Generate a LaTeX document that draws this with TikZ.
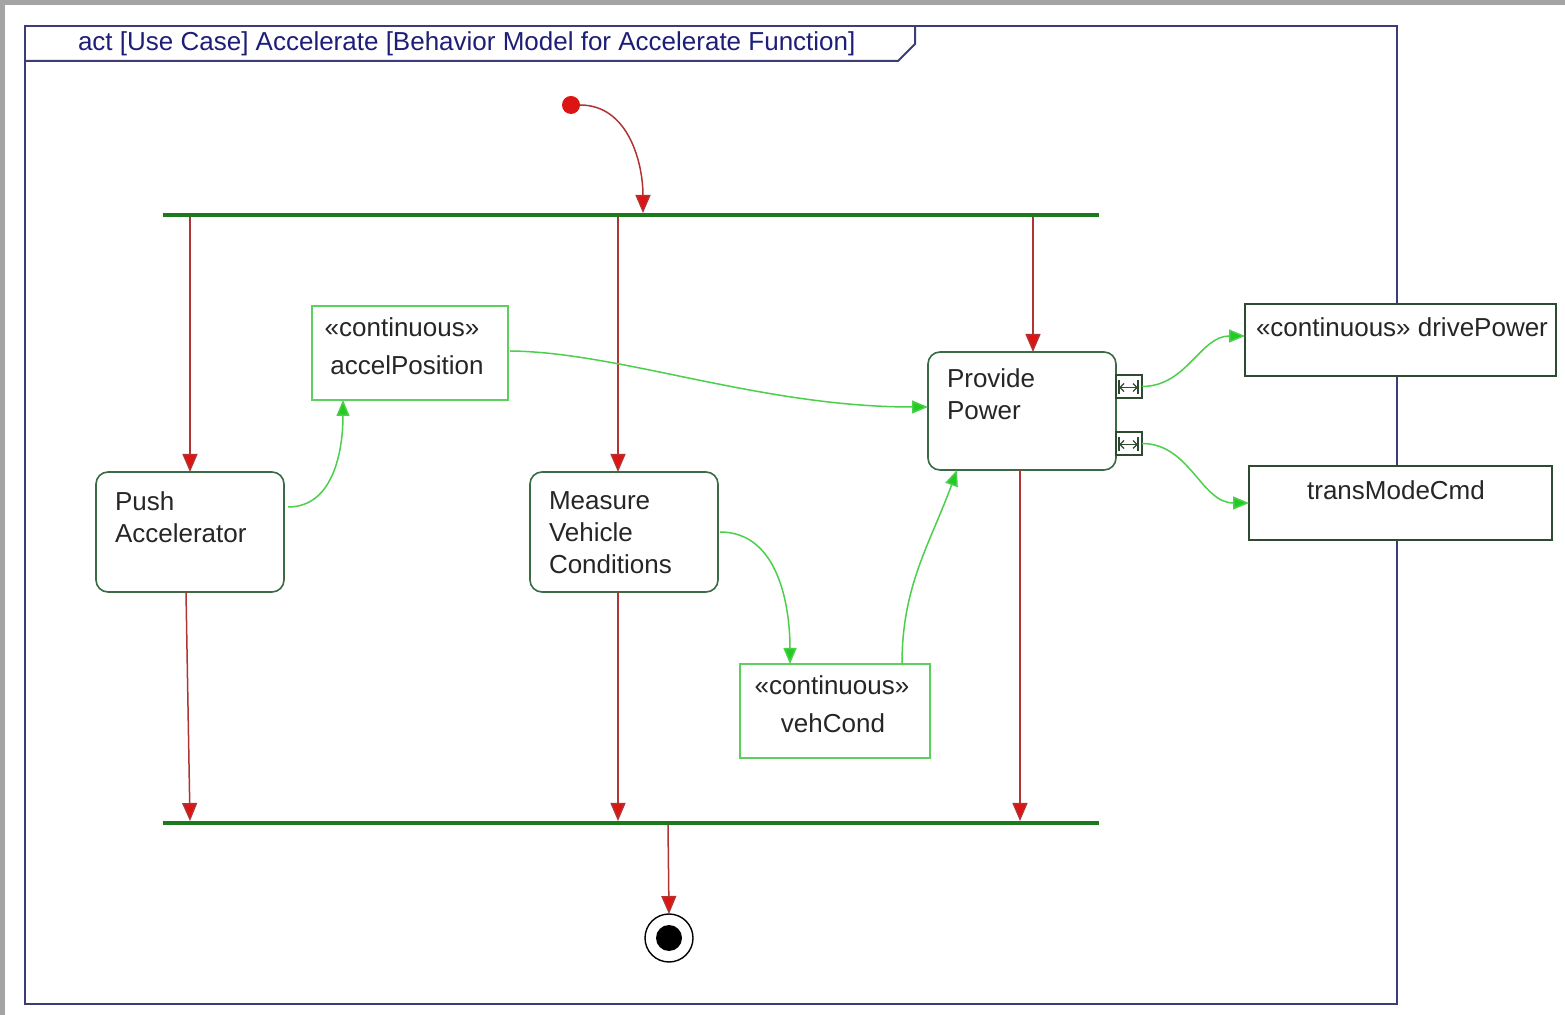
\documentclass[tikz,border=0pt]{standalone}
\usepackage{fontspec}
\setmainfont{Liberation Sans}
\usetikzlibrary{arrows.meta,calc}

\definecolor{framecol}{HTML}{3C3C78}
\definecolor{titlecol}{HTML}{1E1E78}
\definecolor{actcol}{HTML}{3A6B44}
\definecolor{barcol}{HTML}{1C7A1C}
\definecolor{ctrlline}{HTML}{B03434}
\definecolor{ctrltip}{HTML}{DD1414}
\definecolor{objline}{HTML}{4CCF4C}
\definecolor{objtip}{HTML}{20CC20}
\definecolor{objbox}{HTML}{5CD05C}
\definecolor{pinbox}{HTML}{2E4A30}
\definecolor{edgegray}{HTML}{A4A4A4}

\begin{document}
\begin{tikzpicture}[x=0.5pt,y=-0.5pt,
  every node/.style={inner sep=0pt, outer sep=0pt},
  txt/.style={font=\fontsize{13}{16}\selectfont, text=black!85, align=left},
  ctxt/.style={font=\fontsize{13}{16}\selectfont, text=black!85, align=center},
  action/.style={draw=actcol, line width=0.8pt, rounded corners=6pt, fill=white},
  objnode/.style={draw=objbox, line width=0.9pt, fill=white},
  pinobj/.style={draw=pinbox, line width=0.8pt, fill=white},
  pin/.style={draw=pinbox, line width=0.7pt, fill=white, minimum width=13pt, minimum height=11.5pt},
  syncbar/.style={fill=barcol, minimum width=468pt, minimum height=2pt},
  ctrl/.style={draw=ctrlline, line width=0.75pt, -{Triangle[length=9pt,width=7.5pt,fill=ctrltip]}},
  flow/.style={draw=objline, line width=0.75pt, -{Triangle[length=8pt,width=6.5pt,fill=objtip]}},
]
\useasboundingbox (0,0) rectangle (1565,1015);
% window edge
\fill[edgegray] (0,0) rectangle (1565,1015);
\fill[white] (5,5) rectangle (1565,1015);

% diagram frame with its name tab
\draw[framecol, line width=1pt] (25,26) rectangle (1397,1004);
\draw[framecol, line width=1pt] (25,61) -- (898,61) -- (915,44) -- (915,26);
\node[anchor=base west, font=\fontsize{13}{16}\selectfont, text=titlecol] (title) at (78,51)
  {act [Use Case] Accelerate [Behavior Model for Accelerate Function]};

% control nodes
\node[circle, fill=ctrltip, minimum size=9pt] (init) at (571,105) {};
\node[syncbar] (fork) at (631,215) {};
\node[syncbar] (join) at (631,823) {};
\node[circle, draw=black, line width=0.7pt, fill=white, minimum size=24pt] (final) at (669,938) {};
\node[circle, fill=black, minimum size=13pt] (finaldot) at (669,938) {};

% actions
\node[action, minimum width=94pt, minimum height=60pt] (push) at (190,532) {};
\node[action, minimum width=94pt, minimum height=60pt] (measure) at (624,532) {};
\node[action, minimum width=94pt, minimum height=59pt] (provide) at (1022,411) {};
\node[txt, anchor=north west] (pushtxt) at ($(push.north west)+(19,20)$) {Push\\Accelerator};
\node[txt, anchor=north west] (meastxt) at ($(measure.north west)+(19,20)$) {Measure\\Vehicle\\Conditions};
\node[txt, anchor=north west] (provtxt) at ($(provide.north west)+(19,17)$) {Provide\\Power};

% object nodes
\node[objnode, minimum width=98pt, minimum height=47pt] (accel) at (410,353) {};
\node[ctxt, anchor=base] (acceltxt1) at (402,337) {«continuous»};
\node[ctxt, anchor=base] (acceltxt2) at (407,375) {accelPosition};
\node[objnode, minimum width=95pt, minimum height=47pt] (veh) at (835,711) {};
\node[ctxt, anchor=base] (vehtxt1) at (832,695) {«continuous»};
\node[ctxt, anchor=base] (vehtxt2) at (833,733) {vehCond};
\node[pinobj, minimum width=155.5pt, minimum height=36pt] (drive) at (1400.5,340) {};
\node[ctxt, anchor=base] (drivetxt) at (1402,337) {«continuous» drivePower};
\node[pinobj, minimum width=151.5pt, minimum height=37pt] (trans) at (1400.5,503) {};
\node[ctxt, anchor=base] (transtxt) at (1396,500) {transModeCmd};

% streaming output pins
\node[pin] (pin1) at (1129,386.5) {};
\node[pin] (pin2) at (1129,443.5) {};
\foreach \p in {pin1,pin2}{
  \begin{scope}[shift={(\p.center)}, draw=pinbox, line width=0.6pt]
    \draw (-9,1) -- (8,1);
    \draw (-5,-3) -- (-9,1) -- (-5,5);
    \draw (4,-3) -- (8,1) -- (4,5);
    \draw (-10,-6) -- (-10,8);
    \draw (9,-6) -- (9,8);
  \end{scope}
}

% control flow
\coordinate (pushin) at (push.north);
\coordinate (measin) at ($(measure.north)+(-6,0)$);
\coordinate (provin) at ($(provide.north)+(11,0)$);
\coordinate (pushout) at ($(push.south)+(-4,0)$);
\coordinate (measout) at ($(measure.south)+(-6,0)$);
\coordinate (provout) at ($(provide.south)+(-2,0)$);
\coordinate (forkin) at ($(fork.north)+(12,0)$);

\draw[ctrl] (init.east) to[out=0,in=90] (forkin);
\draw[ctrl] (pushin |- fork.south) -- (pushin);
\draw[ctrl] (measin |- fork.south) -- (measin);
\draw[ctrl] (provin |- fork.south) -- (provin);
\draw[ctrl] (pushout) -- ($(join.north)+(-441,0)$);
\draw[ctrl] (measout) -- (measout |- join.north);
\draw[ctrl] (provout) -- (provout |- join.north);
\draw[ctrl] ($(join.south)+(37,0)$) -- (final.north);

% object flow
\draw[flow] ($(accel.east)+(2,-2)$) .. controls (620,352) and (760,407) .. ($(provide.west)+(0,-4)$);
\draw[flow] ($(push.east)+(4,-25)$) to[out=0,in=-90] ($(accel.south)+(-67,0)$);
\draw[flow] ($(measure.east)+(2,0)$) to[out=0,in=90] ($(veh.north)+(-45,0)$);
\draw[flow] ($(veh.north)+(67,0)$) to[out=90,in=-110] ($(provide.south)+(-65,0)$);
\draw[flow] (pin1.east) to[out=0,in=180] ($(drive.west)+(0,-4)$);
\draw[flow] (pin2.east) to[out=0,in=180] (trans.west);
\end{tikzpicture}
\end{document}
